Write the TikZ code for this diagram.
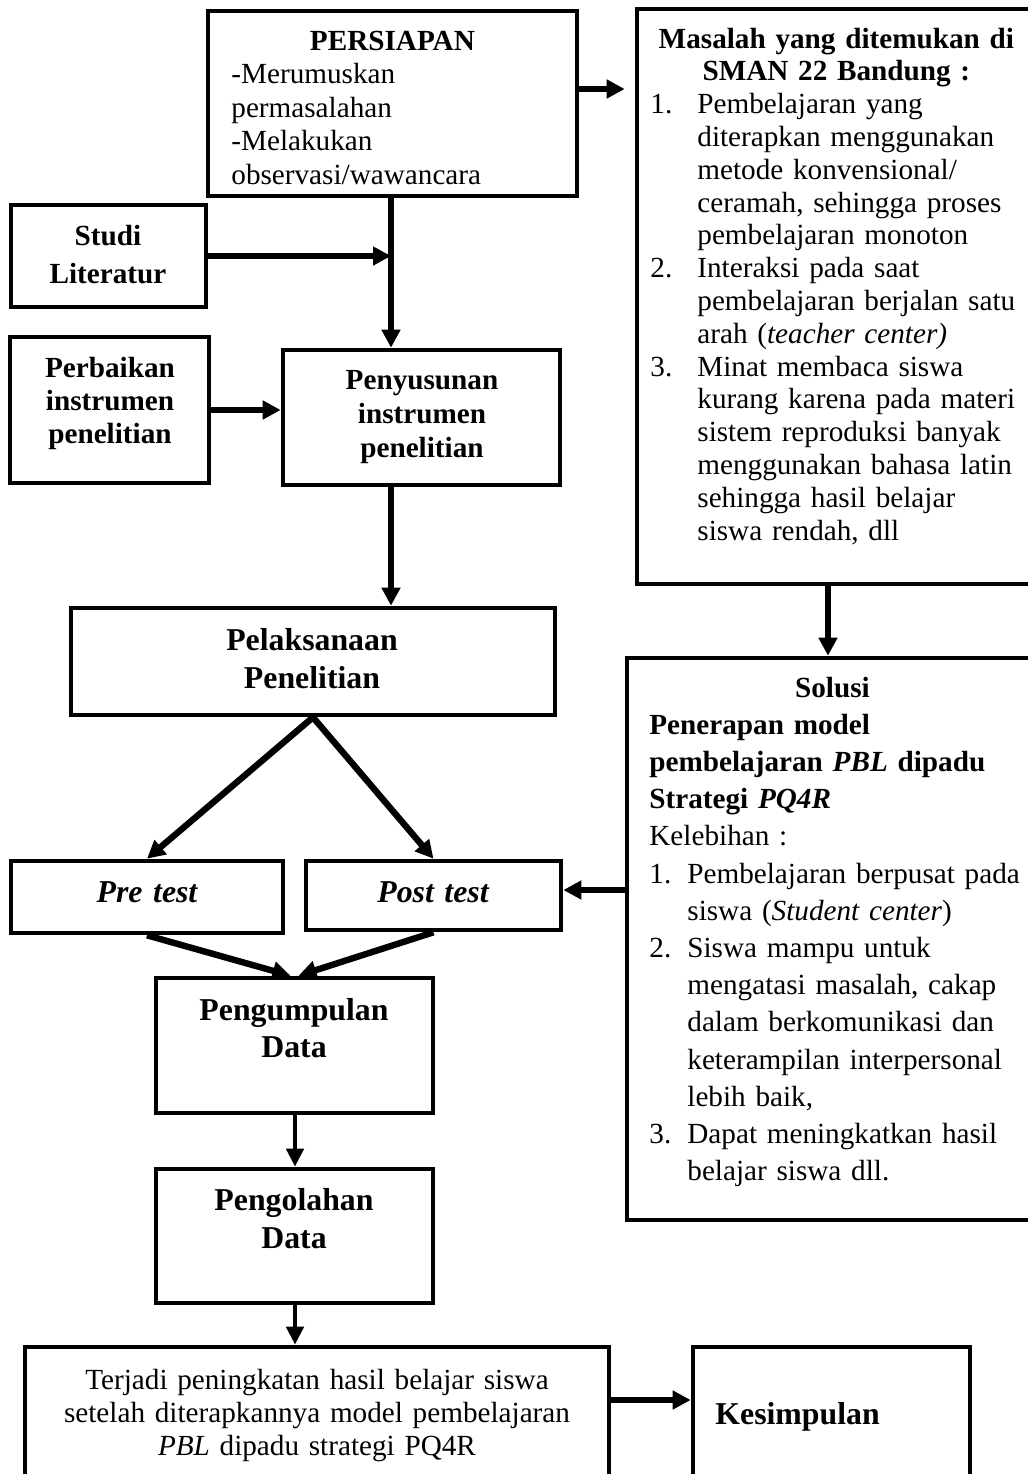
\documentclass[tikz,border=0pt]{standalone}
\usepackage{fontspec}
\setmainfont{Liberation Serif}
\usetikzlibrary{arrows.meta,fit}
\newcommand\fntN{\fontsize{14.6}{16.4}\selectfont}
\newcommand\fntL{\fontsize{15.9}{18.8}\selectfont\bfseries}
\tikzset{
  box/.style={draw, line width=2.3pt, inner sep=0pt},
  arr/.style={line width=3.2pt, -{Triangle[length=9pt,width=9pt]}},
  arrthin/.style={line width=2.4pt, -{Triangle[length=9pt,width=8.5pt]}},
  ctext/.style={inner sep=0pt, anchor=base, text width=290pt, align=center},
  para/.style={inner sep=0pt, anchor=base west, text width=200pt, align=left},
}
\begin{document}
\begin{tikzpicture}[x=0.5pt,y=-0.5pt]
\fill[white] (0,0) rectangle (1028,1474);
\useasboundingbox (0,0) rectangle (1028,1474);

% helper coordinates
\coordinate (v) at (391,0);
\coordinate (pm) at (0,89);
\coordinate (ms) at (828,0);
\coordinate (sp) at (0,890);
\coordinate (tk) at (0,1400);
\coordinate (dv) at (295,0);

% boxes
\node[box, fit={(208,11) (577,196)}] (persiapan) {};
\node[box, fit={(637,9) (1036,584)}] (masalah) {};
\node[box, fit={(11,205) (206,307)}] (studi) {};
\node[box, fit={(10,337) (209,483)}] (perbaikan) {};
\node[box, fit={(283,350) (560,485)}] (penyusunan) {};
\node[box, fit={(71,608) (555,715)}] (pelaksanaan) {};
\node[box, fit={(11,861) (283,933)}] (pre) {};
\node[box, fit={(306,861) (561,930)}] (post) {};
\node[box, fit={(627,658) (1036,1220)}] (solusi) {};
\node[box, fit={(156,978) (433,1113)}] (pengumpulan) {};
\node[box, fit={(156,1169) (433,1303)}] (pengolahan) {};
\node[box, fit={(25,1347) (609,1520)}] (terjadi) {};
\node[box, fit={(693,1347) (970,1520)}] (kesimpulan) {};

% texts
\node[para, text width=161pt, font=\fontsize{14.6}{16.75}\selectfont] (tpers) at (231,50)
  {{\centering\bfseries PERSIAPAN\par}
   -Merumuskan\\ permasalahan\\ -Melakukan\\ observasi/wawancara};

\node[para, font=\fntN] (tmas) at (650,48)
  {\makebox[186pt]{\bfseries Masalah yang ditemukan di}\\
   \makebox[186pt]{\bfseries SMAN 22 Bandung :}\\
   \makebox[23.5pt][l]{1.}Pembelajaran yang\\
   \hspace*{23.5pt}diterapkan menggunakan\\
   \hspace*{23.5pt}metode konvensional/\\
   \hspace*{23.5pt}ceramah, sehingga proses\\
   \hspace*{23.5pt}pembelajaran monoton\\
   \makebox[23.5pt][l]{2.}Interaksi pada saat\\
   \hspace*{23.5pt}pembelajaran berjalan satu\\
   \hspace*{23.5pt}arah (\textit{teacher center)}\\
   \makebox[23.5pt][l]{3.}Minat membaca siswa\\
   \hspace*{23.5pt}kurang karena pada materi\\
   \hspace*{23.5pt}sistem reproduksi banyak\\
   \hspace*{23.5pt}menggunakan bahasa latin\\
   \hspace*{23.5pt}sehingga hasil belajar\\
   \hspace*{23.5pt}siswa rendah, dll};

\node[para, font=\fontsize{14.6}{18.6}\selectfont] (tsol) at (649,697)
  {\makebox[183pt]{\bfseries Solusi}\\
   \textbf{Penerapan model}\\
   \textbf{pembelajaran \textit{PBL} dipadu}\\
   \textbf{Strategi \textit{PQ4R}}\\
   Kelebihan :\\
   \makebox[19pt][l]{1.}Pembelajaran berpusat pada\\
   \hspace*{19pt}siswa (\textit{Student center})\\
   \makebox[19pt][l]{2.}Siswa mampu untuk\\
   \hspace*{19pt}mengatasi masalah, cakap\\
   \hspace*{19pt}dalam berkomunikasi dan\\
   \hspace*{19pt}keterampilan interpersonal\\
   \hspace*{19pt}lebih baik,\\
   \makebox[19pt][l]{3.}Dapat meningkatkan hasil\\
   \hspace*{19pt}belajar siswa dll.};

\node[ctext, font=\fontsize{14.6}{19}\selectfont\bfseries] (tstudi) at (108,245) {Studi\\Literatur};
\node[ctext, font=\fontsize{14.6}{16.5}\selectfont\bfseries] (tperb) at (110,377) {Perbaikan\\instrumen\\penelitian};
\node[ctext, font=\fontsize{14.6}{17}\selectfont\bfseries] (tpeny) at (422,389) {Penyusunan\\instrumen\\penelitian};
\node[ctext, font=\fontsize{15.9}{19}\selectfont\bfseries] (tpel) at (312,650) {Pelaksanaan\\Penelitian};
\node[ctext, font=\fntL\itshape] (tpre) at (147,902) {Pre test};
\node[ctext, font=\fntL\itshape] (tpost) at (433,902) {Post test};
\node[ctext, font=\fontsize{15.9}{18.5}\selectfont\bfseries] (tpengum) at (294,1020) {Pengumpulan\\Data};
\node[ctext, font=\fontsize{15.9}{19}\selectfont\bfseries] (tpengol) at (294,1210) {Pengolahan\\Data};
\node[ctext, font=\fontsize{14.6}{16.5}\selectfont] (tter) at (317,1389)
  {Terjadi peningkatan hasil belajar siswa\\
   setelah diterapkannya model pembelajaran\\
   \textit{PBL} dipadu strategi PQ4R};
\node[inner sep=0pt, anchor=base west, font=\fntL] (tkes) at (715,1424) {Kesimpulan};

% connectors
\draw[arr, shorten >=5pt] (persiapan.east |- pm) -- (masalah.west |- pm);
\draw[arr] (persiapan.south -| v) -- (penyusunan.north -| v);
\draw[arr] (studi.east) -- (studi.east -| v);
\draw[arr] (perbaikan.east) -- (perbaikan.east -| penyusunan.west);
\draw[arr] (penyusunan.south -| v) -- (pelaksanaan.north -| v);
\draw[arr] (pelaksanaan.south) -- (pre.north);
\draw[arr] (pelaksanaan.south) -- (post.north);
\draw[arr] (masalah.south -| ms) -- (solusi.north -| ms);
\draw[arr] (solusi.west |- sp) -- (post.east |- sp);
\draw[arr] (pre.south) -- ([xshift=-2pt]pengumpulan.north);
\draw[arr] (post.south) -- ([xshift=2pt]pengumpulan.north);
\draw[arrthin] (pengumpulan.south -| dv) -- (pengolahan.north -| dv);
\draw[arrthin] (pengolahan.south -| dv) -- (terjadi.north -| dv);
\draw[arr] (terjadi.east |- tk) -- (kesimpulan.west |- tk);
\end{tikzpicture}
\end{document}
